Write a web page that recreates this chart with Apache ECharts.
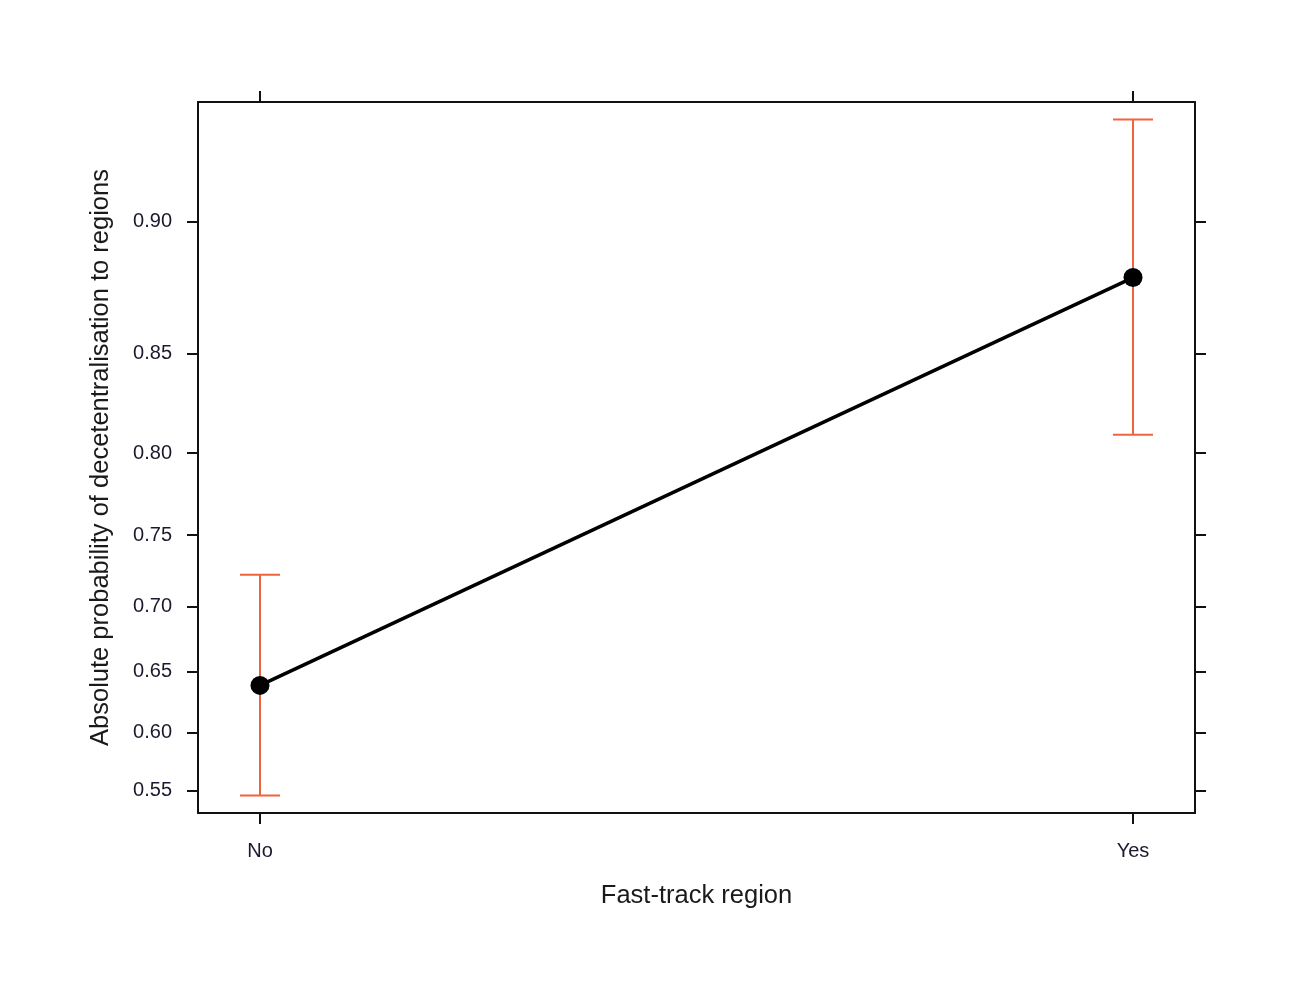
<!DOCTYPE html>
<html>
<head>
<meta charset="utf-8">
<script src="https://cdn.jsdelivr.net/npm/echarts@6/dist/echarts.min.js"></script>
<style>html,body{margin:0;padding:0;background:#fff;}#c{width:1303px;height:1002px;}</style>
</head>
<body>
<div id="c"></div>
<script>
// Data
var categories = ['No', 'Yes'];
var fitValues = [0.639, 0.881];
var lowerValues = [0.546, 0.810];
var upperValues = [0.723, 0.928];
var yTickLabels = [0.55, 0.60, 0.65, 0.70, 0.75, 0.80, 0.85, 0.90];

function logit(p) { return Math.log(p / (1 - p)); }
function invlogit(x) { return 1 / (1 + Math.exp(-x)); }

var yTicks = yTickLabels.map(logit);
var xTicks = categories.map(function (c, i) { return i; });
var yMin = logit(0.5308), yMax = logit(0.9320);
var xMin = -0.071, xMax = 1.071;

var lineData = fitValues.map(function (v, i) { return [i, logit(v)]; });
var errData = categories.map(function (c, i) { return [i, logit(lowerValues[i]), logit(upperValues[i])]; });

var font = 'Liberation Sans, Arial, sans-serif';
var axisLine = { show: true, onZero: false, lineStyle: { color: '#111', width: 2 } };
var tickStyle = { color: '#111', width: 2 };

var chart = echarts.init(document.getElementById('c'));
chart.setOption({
  animation: false,
  backgroundColor: '#fff',
  grid: { left: 198, top: 102, right: 108, bottom: 189, containLabel: false },
  xAxis: [{
    type: 'value', min: xMin, max: xMax, position: 'bottom',
    splitLine: { show: false },
    axisLine: axisLine,
    axisTick: { show: true, length: 11, lineStyle: tickStyle, customValues: xTicks },
    axisLabel: { show: true, customValues: xTicks, margin: 28, fontSize: 20, color: '#1a1a2e', fontFamily: font,
      formatter: function (v) { return categories[Math.round(v)]; } },
    name: 'Fast-track region', nameLocation: 'middle', nameGap: 70,
    nameTextStyle: { fontSize: 25.5, color: '#1a1a1a', fontFamily: font }
  }, {
    type: 'value', min: xMin, max: xMax, position: 'top',
    splitLine: { show: false },
    axisLine: axisLine,
    axisTick: { show: true, length: 11, lineStyle: tickStyle, customValues: xTicks },
    axisLabel: { show: false }
  }],
  yAxis: [{
    type: 'value', min: yMin, max: yMax, position: 'left',
    splitLine: { show: false },
    axisLine: axisLine,
    axisTick: { show: true, length: 11, lineStyle: tickStyle, customValues: yTicks },
    axisLabel: { show: true, customValues: yTicks, margin: 26, fontSize: 20, color: '#1a1a2e', fontFamily: font,
      formatter: function (v) { return invlogit(v).toFixed(2); } },
    name: 'Absolute probability of decetentralisation to regions', nameLocation: 'middle', nameGap: 84,
    nameTextStyle: { fontSize: 25.5, color: '#1a1a1a', fontFamily: font }
  }, {
    type: 'value', min: yMin, max: yMax, position: 'right',
    splitLine: { show: false },
    axisLine: axisLine,
    axisTick: { show: true, length: 11, lineStyle: tickStyle, customValues: yTicks },
    axisLabel: { show: false }
  }],
  series: [{
    type: 'custom',
    xAxisIndex: 0, yAxisIndex: 0,
    data: errData,
    z: 1,
    renderItem: function (params, api) {
      var x = api.value(0);
      var lo = api.coord([x, api.value(1)]);
      var hi = api.coord([x, api.value(2)]);
      var hw = 20;
      var st = { stroke: '#F0643C', lineWidth: 2, fill: null };
      return {
        type: 'group',
        children: [
          { type: 'line', shape: { x1: lo[0], y1: lo[1], x2: hi[0], y2: hi[1] }, style: st },
          { type: 'line', shape: { x1: lo[0] - hw, y1: lo[1], x2: lo[0] + hw, y2: lo[1] }, style: st },
          { type: 'line', shape: { x1: hi[0] - hw, y1: hi[1], x2: hi[0] + hw, y2: hi[1] }, style: st }
        ]
      };
    }
  }, {
    type: 'line',
    xAxisIndex: 0, yAxisIndex: 0,
    data: lineData,
    z: 3,
    symbol: 'circle', symbolSize: 19,
    lineStyle: { color: '#000', width: 3.5 },
    itemStyle: { color: '#000' }
  }]
});
</script>
</body>
</html>
